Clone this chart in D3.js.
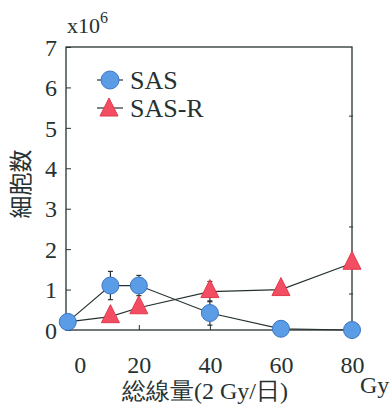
<!DOCTYPE html>
<html>
<head>
<meta charset="utf-8">
<script src="https://cdn.jsdelivr.net/npm/d3@7"></script>
<style>
  html, body { margin: 0; padding: 0; background: #fff; }
</style>
</head>
<body>
<svg id="chart" width="392" height="407">
  <g id="plot" font-family="Liberation Serif" fill="#263232"></g>
</svg>
<script>
'use strict';

// dose (Gy) and cell counts (x10^6)
const doses = [0, 12, 20, 40, 60, 80];
const sasValues = [0.2, 1.1, 1.1, 0.42, 0.03, 0.0];
const sasErrors = [0, 0.35, 0.25, 0.3, 0, 0];
const sasRValues = [0.2, 0.33, 0.55, 0.95, 1.0, 1.65];
const sasRErrors = [0, 0, 0, 0.25, 0, 0];
const yTicks = [0, 1, 2, 3, 4, 5, 6, 7];
const xTicks = [0, 20, 40, 60, 80];
const rightTicks = [0.89, 2.55, 5.29];
const seriesNames = ['SAS', 'SAS-R'];

const svg = d3.select('#plot');
const ink = '#263232';

const x = d3.scaleLinear().domain([-0.5, 80]).range([66, 352]);
const y = d3.scaleLinear().domain([0, 7]).range([330, 47]);

// frame
svg.append('rect')
    .attr('x', x.range()[0]).attr('y', y.range()[1])
    .attr('width', x.range()[1] - x.range()[0])
    .attr('height', y.range()[0] - y.range()[1])
    .attr('fill', 'none').attr('stroke', ink).attr('stroke-width', 1.3);

// left axis: ticks pointing inward
const yAxis = svg.append('g')
    .attr('transform', `translate(${x.range()[0]},0)`)
    .call(d3.axisLeft(y).tickValues(yTicks).tickFormat(d3.format('d'))
        .tickSizeInner(-5).tickSizeOuter(0).tickPadding(9));
yAxis.attr('font-family', 'Liberation Serif').attr('font-size', 24);
yAxis.select('.domain').remove();
yAxis.selectAll('line').attr('stroke', ink);
yAxis.selectAll('text').attr('fill', ink).attr('dy', '0.34em');

// bottom axis
const xAxis = svg.append('g')
    .attr('transform', `translate(0,${y.range()[0]})`)
    .call(d3.axisBottom(x).tickValues(xTicks).tickFormat(d3.format('d'))
        .tickSizeInner(-5).tickSizeOuter(0).tickPadding(26));
xAxis.attr('font-family', 'Liberation Serif').attr('font-size', 24);
xAxis.select('.domain').remove();
xAxis.selectAll('line').attr('stroke', ink);
xAxis.selectAll('text').attr('fill', ink)
    .attr('dx', d => d === 0 ? 12 : 0);

// stray ticks on right edge
svg.append('g').selectAll('line')
    .data(rightTicks)
    .join('line')
    .attr('x1', x.range()[1] - 3).attr('x2', x.range()[1] + 1)
    .attr('y1', d => y(d)).attr('y2', d => y(d))
    .attr('stroke', ink);

// exponent label
const expo = svg.append('g').attr('font-size', 22)
    .append('text').attr('x', 67).attr('y', 33);
expo.append('tspan').text('x10');
expo.append('tspan').attr('dy', -10).attr('font-size', 16).text('6');

// y label
svg.append('g')
    .attr('font-family', 'Noto Sans CJK JP')
    .attr('font-size', 23)
    .attr('transform', 'translate(29,184) rotate(-90)')
    .append('text')
    .attr('text-anchor', 'middle')
    .text('細胞数');

// x label
svg.append('g').attr('font-size', 24)
    .append('text')
    .attr('x', 205).attr('y', 399)
    .attr('text-anchor', 'middle')
    .text('総線量(2 Gy/日)');

svg.append('g').attr('font-size', 24)
    .append('text')
    .attr('x', 360).attr('y', 393)
    .text('Gy');

const sasData = doses.map((d, i) => ({dose: d, v: sasValues[i], e: sasErrors[i]}));
const sasRData = doses.map((d, i) => ({dose: d, v: sasRValues[i], e: sasRErrors[i]}));

const line = d3.line().x(d => x(d.dose)).y(d => y(d.v));

[sasRData, sasData].forEach(data => {
    svg.append('path')
        .datum(data)
        .attr('d', line)
        .attr('fill', 'none')
        .attr('stroke', ink)
        .attr('stroke-width', 1.2);
});

// error bars
function drawErrors(data) {
    const g = svg.append('g').selectAll('g')
        .data(data.filter(d => d.e > 0))
        .join('g')
        .attr('stroke', ink).attr('stroke-width', 1.2);
    g.append('line')
        .attr('x1', d => x(d.dose)).attr('x2', d => x(d.dose))
        .attr('y1', d => y(d.v - d.e)).attr('y2', d => y(d.v + d.e));
    g.append('line')
        .attr('x1', d => x(d.dose) - 2.5).attr('x2', d => x(d.dose) + 2.5)
        .attr('y1', d => y(d.v + d.e)).attr('y2', d => y(d.v + d.e));
    g.append('line')
        .attr('x1', d => x(d.dose) - 2.5).attr('x2', d => x(d.dose) + 2.5)
        .attr('y1', d => y(d.v - d.e)).attr('y2', d => y(d.v - d.e));
}
drawErrors(sasRData);
drawErrors(sasData);

function triangle(w, h) {
    return `M0,${-2 * h / 3}L${w / 2},${h / 3}L${-w / 2},${h / 3}Z`;
}

const triFill = '#f24d63', triStroke = '#e2394b';
const cirFill = '#5a9de6', cirStroke = '#3b74c4';

svg.append('g').selectAll('path')
    .data(sasRData.slice(1))
    .join('path')
    .attr('d', triangle(18, 18))
    .attr('transform', d => `translate(${x(d.dose)},${y(d.v)})`)
    .attr('fill', triFill).attr('stroke', triStroke).attr('stroke-width', 1);

svg.append('g').selectAll('circle')
    .data(sasData)
    .join('circle')
    .attr('cx', d => x(d.dose)).attr('cy', d => y(d.v))
    .attr('r', 8.5)
    .attr('fill', cirFill).attr('stroke', cirStroke).attr('stroke-width', 1);

// legend
const legend = svg.append('g').attr('font-size', 26);
const legendRows = [80, 108];
seriesNames.forEach((name, i) => {
    const ly = legendRows[i];
    legend.append('line')
        .attr('x1', 97).attr('x2', 123).attr('y1', ly).attr('y2', ly)
        .attr('stroke', ink).attr('stroke-width', 1.2);
    if (i === 0) {
        legend.append('circle').attr('cx', 110).attr('cy', ly).attr('r', 9)
            .attr('fill', cirFill).attr('stroke', cirStroke);
    } else {
        legend.append('path').attr('d', triangle(18, 18))
            .attr('transform', `translate(109,${ly + 2})`)
            .attr('fill', triFill).attr('stroke', triStroke);
    }
    legend.append('text')
        .attr('x', 130).attr('y', ly + 9)
        .text(name);
});
</script>
</body>
</html>
